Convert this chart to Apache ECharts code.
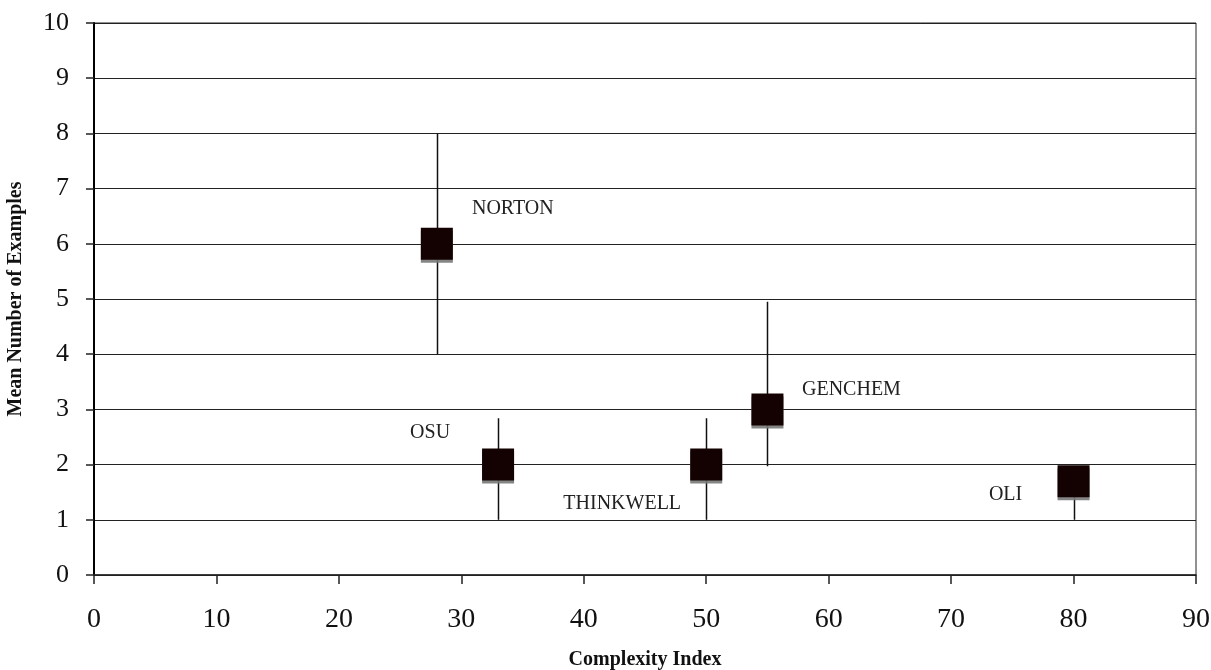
<!DOCTYPE html>
<html>
<head>
<meta charset="utf-8">
<script src="https://cdn.jsdelivr.net/npm/echarts@6/dist/echarts.min.js"></script>
<style>
html,body{margin:0;padding:0;background:#fff;}
#chart{width:1211px;height:670px;}
</style>
</head>
<body>
<div id="chart"></div>
<script>
// ---- data ----
var names = ['NORTON', 'OSU', 'THINKWELL', 'GENCHEM', 'OLI'];
var complexity = [28, 33, 50, 55, 80];
var meanExamples = [6, 2, 2, 3, 1.7];
var errLow = [4, 1, 1, 1.97, 1];
var errHigh = [8, 2.84, 2.84, 4.95, 1.7];

// ---- label placement (pixels, style only) ----
var labelOffsets = {
  NORTON: [76, -35],
  OSU: [-68, -32],
  THINKWELL: [-84, 39],
  GENCHEM: [84, -20],
  OLI: [-68, 14]
};

var serif = '"Liberation Serif", "DejaVu Serif", serif';

var points = names.map(function (n, i) {
  return {
    name: n,
    value: [complexity[i], meanExamples[i]],
    label: { offset: labelOffsets[n] }
  };
});
var bars = names.map(function (n, i) {
  return [complexity[i], errLow[i], errHigh[i]];
});

var chart = echarts.init(document.getElementById('chart'), null, { renderer: 'canvas' });
chart.setOption({
  animation: false,
  backgroundColor: '#fff',
  grid: { left: 94, right: 15, top: 23, bottom: 95, show: true, borderColor: '#222', borderWidth: 1,
          containLabel: false, outerBoundsMode: 'none' },
  xAxis: {
    type: 'value', min: 0, max: 90, interval: 10,
    name: 'Complexity Index', nameLocation: 'middle', nameGap: 75,
    nameTextStyle: { fontFamily: serif, fontWeight: 'bold', fontSize: 20, color: '#111' },
    axisLine: { show: true, onZero: false, lineStyle: { color: '#222', width: 1.5 } },
    axisTick: { show: true, inside: false, length: 9, lineStyle: { color: '#222', width: 1.5 } },
    axisLabel: { fontFamily: serif, fontSize: 28, color: '#111', margin: 31 },
    splitLine: { show: false }
  },
  yAxis: {
    type: 'value', min: 0, max: 10, interval: 1,
    name: 'Mean Number of Examples', nameLocation: 'middle', nameGap: 68, nameRotate: 90,
    nameTextStyle: { fontFamily: serif, fontWeight: 'bold', fontSize: 20, color: '#111' },
    axisLine: { show: true, lineStyle: { color: '#000', width: 2 } },
    axisTick: { show: true, inside: false, length: 8, lineStyle: { color: '#222', width: 1.5 } },
    axisLabel: { fontFamily: serif, fontSize: 26, color: '#111', margin: 25 },
    splitLine: { show: true, lineStyle: { color: '#222', width: 1.2 } }
  },
  series: [
    {
      type: 'custom',
      data: bars,
      z: 2,
      silent: true,
      renderItem: function (params, api) {
        var p1 = api.coord([api.value(0), api.value(1)]);
        var p2 = api.coord([api.value(0), api.value(2)]);
        return {
          type: 'line',
          shape: { x1: Math.round(p1[0]) + 0.5, y1: p1[1], x2: Math.round(p2[0]) + 0.5, y2: p2[1] },
          style: { stroke: '#111', lineWidth: 1.5 }
        };
      }
    },
    {
      type: 'scatter',
      data: points,
      z: 3,
      symbol: 'rect',
      symbolSize: 32,
      itemStyle: {
        color: '#140202',
        shadowColor: 'rgba(120,120,120,0.9)',
        shadowOffsetY: 3,
        shadowOffsetX: 0,
        shadowBlur: 0,
        opacity: 1
      },
      label: {
        show: true,
        position: 'inside',
        formatter: '{b}',
        fontFamily: serif,
        fontSize: 20,
        color: '#222'
      }
    }
  ]
});
</script>
</body>
</html>
